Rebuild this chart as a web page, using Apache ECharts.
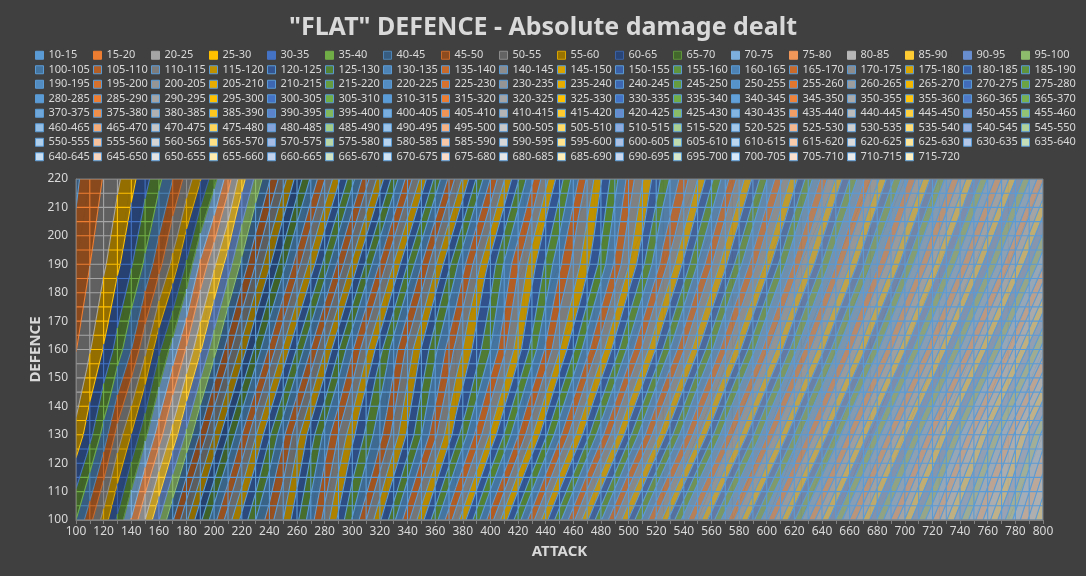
<!DOCTYPE html>
<html>
<head>
<meta charset="utf-8">
<title>"FLAT" DEFENCE - Absolute damage dealt</title>
<script src="https://cdn.jsdelivr.net/npm/echarts@6/dist/echarts.min.js"></script>
<style>
  html, body { margin: 0; padding: 0; background: #404040; }
  #chart { width: 1086px; height: 576px; }
</style>
</head>
<body>
<div id="chart"></div>
<script>
// attack columns / defence rows the damage table was read at
var ATTACK = [100, 110, 120, 130, 140, 150, 160, 170, 180, 190, 200, 210, 220, 230, 240, 250, 260, 270, 280, 290, 300,
  325, 350, 375, 400, 425, 450, 475, 500, 525, 550, 575, 600, 625, 650, 675, 700, 725, 750, 775, 800];
var DEFENCE = [100, 130, 160, 190, 220];

// damage dealt, one array per defence row
var DMG_D100 = [40.0, 48.3, 57.0, 66.0, 75.4, 85.0, 94.7, 104.5, 114.2, 123.9, 133.3, 142.5, 151.4, 159.8, 167.7, 175.0, 183.9, 192.9, 201.9, 211.1, 220.4,
  244.0, 268.1, 292.7, 317.7, 343.0, 368.6, 394.3, 420.3, 446.3, 472.3, 498.3, 524.1, 549.8, 575.3, 600.5, 625.4, 649.8, 673.8, 697.2, 720.0];
var DMG_D130 = [26.3, 33.4, 42.0, 52.0, 60.2, 68.8, 77.6, 86.8, 96.1, 105.7, 115.4, 125.1, 134.9, 144.6, 154.3, 163.9, 173.3, 182.6, 191.5, 200.2, 208.5,
  227.5, 249.8, 272.6, 295.9, 319.6, 343.7, 368.2, 393.0, 418.0, 443.3, 468.9, 494.6, 520.4, 546.3, 572.3, 598.4, 624.4, 650.3, 676.2, 702.0];
var DMG_D160 = [19.8, 24.6, 30.4, 37.1, 44.9, 53.8, 64.0, 72.2, 80.6, 89.4, 98.3, 107.5, 116.9, 126.4, 136.0, 145.7, 155.5, 165.2, 175.0, 184.7, 194.4,
  218.0, 240.4, 261.3, 280.0, 302.3, 324.9, 348.0, 371.4, 395.2, 419.3, 443.7, 468.4, 493.3, 518.4, 543.7, 569.2, 594.8, 620.6, 646.5, 672.4];
var DMG_D190 = [16.3, 19.9, 24.1, 28.9, 34.5, 41.0, 48.2, 56.5, 65.7, 76.0, 84.1, 92.5, 101.2, 110.0, 119.1, 128.3, 137.6, 147.1, 156.7, 166.3, 176.1,
  200.5, 224.8, 248.7, 271.7, 293.6, 314.0, 332.5, 354.7, 377.3, 400.2, 423.5, 447.0, 470.8, 494.9, 519.2, 543.8, 568.6, 593.6, 618.7, 644.1];
var DMG_D220 = [14.3, 17.1, 20.3, 24.1, 28.3, 33.2, 38.7, 45.0, 51.9, 59.6, 68.2, 77.6, 88.0, 96.1, 104.5, 113.0, 121.8, 130.7, 139.8, 149.0, 158.4,
  182.2, 206.4, 230.9, 255.2, 279.2, 302.6, 325.1, 346.6, 366.6, 385.0, 407.2, 429.7, 452.5, 475.6, 499.0, 522.6, 546.4, 570.5, 594.8, 619.3];
var TABLE = [DMG_D100, DMG_D130, DMG_D160, DMG_D190, DMG_D220];

// contour bands 10-15 ... 715-720
var BAND_MIN = 10, BAND_STEP = 5, BAND_COUNT = 142;
var bandLabels = [];
for (var b = 0; b < BAND_COUNT; b++) {
  bandLabels.push((BAND_MIN + b * BAND_STEP) + '-' + (BAND_MIN + (b + 1) * BAND_STEP));
}

// office palette, shaded per group of six
var ACCENTS = ['#5B9BD5', '#ED7D31', '#A5A5A5', '#FFC000', '#4472C4', '#70AD47'];
var TONES = [0, -0.4, 0.2, -0.25, -0.15, -0.15, -0.1, -0.1, -0.05, 0, 0, 0.05,
  0.12, 0.18, 0.25, 0.35, 0.4, 0.45, 0.52, 0.56, 0.6, 0.68, 0.72, 0.76];
var WIRE_BLUE = '#5B9BD5';
var WIRE_STEP_A = 10, WIRE_STEP_D = 5;

function hexRgb(h) {
  return [parseInt(h.substr(1, 2), 16), parseInt(h.substr(3, 2), 16), parseInt(h.substr(5, 2), 16)];
}
function rgbHex(c) {
  return '#' + c.map(function (x) {
    var s = Math.round(Math.max(0, Math.min(255, x))).toString(16);
    return s.length < 2 ? '0' + s : s;
  }).join('');
}
function tone(h, t) {
  return rgbHex(hexRgb(h).map(function (x) { return t < 0 ? x * (1 + t) : x + (255 - x) * t; }));
}
function shade(h, k) {
  return rgbHex(hexRgb(h).map(function (x) { return x * k; }));
}

var legendColor = [], fillColor = [], lineColor = [];
for (var b2 = 0; b2 < BAND_COUNT; b2++) {
  var g = Math.floor(b2 / 6);
  var c = tone(ACCENTS[b2 % 6], TONES[g]);
  legendColor.push(c);
  fillColor.push(shade(c, g === 0 ? 0.58 : (g === 1 ? 1 : 0.75)));
  lineColor.push(b2 < 18 ? (g === 1 ? tone(ACCENTS[b2 % 6], -0.15) : c) : WIRE_BLUE);
}

function bandOf(v) {
  return Math.max(0, Math.min(BAND_COUNT - 1, Math.floor((v - BAND_MIN) / BAND_STEP)));
}

// keep the part of a polygon above / below a level
function clip(poly, level, keepAbove) {
  var out = [];
  for (var k = 0; k < poly.length; k++) {
    var p = poly[k], q = poly[(k + 1) % poly.length];
    var pin = keepAbove ? p.v >= level : p.v <= level;
    var qin = keepAbove ? q.v >= level : q.v <= level;
    if (pin) out.push(p);
    if (pin !== qin) {
      var t = (level - p.v) / (q.v - p.v);
      out.push({ x: p.x + t * (q.x - p.x), y: p.y + t * (q.y - p.y), v: level });
    }
  }
  return out;
}

// cell (i,j) split along its diagonal into two triangles
function cellSampler(api, i, j) {
  var a0 = ATTACK[i], a1 = ATTACK[i + 1], d0 = DEFENCE[j], d1 = DEFENCE[j + 1];
  var v00 = TABLE[j][i], v10 = TABLE[j][i + 1], v01 = TABLE[j + 1][i], v11 = TABLE[j + 1][i + 1];
  var at = function (t, s) {
    var v = t >= s ? v00 + t * (v10 - v00) + s * (v11 - v10) : v00 + s * (v01 - v00) + t * (v11 - v01);
    var xy = api.coord([a0 + t * (a1 - a0), d0 + s * (d1 - d0)]);
    return { x: xy[0], y: xy[1], v: v };
  };
  at.a0 = a0; at.a1 = a1; at.d0 = d0; at.d1 = d1;
  return at;
}

function renderFill(params, api) {
  var at = cellSampler(api, api.value(2), api.value(3));
  var p00 = at(0, 0), p10 = at(1, 0), p11 = at(1, 1), p01 = at(0, 1);
  var children = [];
  [[p00, p10, p11], [p00, p11, p01]].forEach(function (tri) {
    var vs = tri.map(function (p) { return p.v; });
    var b0 = bandOf(Math.min.apply(null, vs)), b1 = bandOf(Math.max.apply(null, vs));
    for (var b = b0; b <= b1; b++) {
      var lo = BAND_MIN + b * BAND_STEP;
      var poly = clip(clip(tri, lo, true), lo + BAND_STEP, false);
      if (poly.length < 3) continue;
      children.push({
        type: 'polygon',
        shape: { points: poly.map(function (p) { return [p.x, p.y]; }) },
        style: { fill: fillColor[b], stroke: fillColor[b], lineWidth: 0.6 }
      });
    }
  });
  return { type: 'group', children: children };
}

function renderWire(params, api) {
  var i = api.value(2), j = api.value(3);
  var at = cellSampler(api, i, j);
  var buckets = {};
  var put = function (x1, y1, x2, y2, col) {
    (buckets[col] = buckets[col] || []).push('M' + x1.toFixed(1) + ' ' + y1.toFixed(1) + 'L' + x2.toFixed(1) + ' ' + y2.toFixed(1));
  };
  // a straight wire piece, cut where it changes band
  var seg = function (p, q) {
    var ts = [0, 1];
    var lo = Math.min(p.v, q.v), hi = Math.max(p.v, q.v);
    for (var L = BAND_MIN + BAND_STEP * Math.ceil((lo - BAND_MIN) / BAND_STEP); L < hi; L += BAND_STEP) {
      if (L > lo) ts.push((L - p.v) / (q.v - p.v));
    }
    ts.sort(function (a, b) { return a - b; });
    for (var k = 0; k < ts.length - 1; k++) {
      var t0 = ts[k], t1 = ts[k + 1];
      if (t1 - t0 < 1e-6) continue;
      var b = bandOf(p.v + (t0 + t1) / 2 * (q.v - p.v));
      put(p.x + t0 * (q.x - p.x), p.y + t0 * (q.y - p.y), p.x + t1 * (q.x - p.x), p.y + t1 * (q.y - p.y), lineColor[b]);
    }
  };
  var lastCol = i === ATTACK.length - 2, lastRow = j === DEFENCE.length - 2;
  for (var a = ATTACK[0]; a <= ATTACK[ATTACK.length - 1]; a += WIRE_STEP_A) {
    if (a < at.a0 || a > at.a1 || (a === at.a1 && !lastCol)) continue;
    var t = (a - at.a0) / (at.a1 - at.a0);
    seg(at(t, 0), at(t, t));
    seg(at(t, t), at(t, 1));
  }
  for (var d = DEFENCE[0]; d <= DEFENCE[DEFENCE.length - 1]; d += WIRE_STEP_D) {
    if (d < at.d0 || d > at.d1 || (d === at.d1 && !lastRow)) continue;
    var s = (d - at.d0) / (at.d1 - at.d0);
    seg(at(0, s), at(s, s));
    seg(at(s, s), at(1, s));
  }
  // band boundaries
  [[at(0, 0), at(1, 0), at(1, 1)], [at(0, 0), at(1, 1), at(0, 1)]].forEach(function (tri) {
    var vs = tri.map(function (p) { return p.v; });
    var vmin = Math.min.apply(null, vs), vmax = Math.max.apply(null, vs);
    for (var L = BAND_MIN + BAND_STEP * Math.floor((vmin - BAND_MIN) / BAND_STEP + 1); L <= vmax; L += BAND_STEP) {
      var pts = [];
      for (var k = 0; k < 3; k++) {
        var p = tri[k], q = tri[(k + 1) % 3];
        if ((p.v >= L) !== (q.v >= L)) {
          var u = (L - p.v) / (q.v - p.v);
          pts.push([p.x + u * (q.x - p.x), p.y + u * (q.y - p.y)]);
        }
      }
      if (pts.length === 2) {
        var below = Math.max(0, Math.round((L - BAND_MIN) / BAND_STEP) - 1);
        put(pts[0][0], pts[0][1], pts[1][0], pts[1][1], lineColor[below]);
      }
    }
  });
  var children = Object.keys(buckets).map(function (col) {
    return {
      type: 'path',
      shape: { pathData: buckets[col].join('') },
      style: { stroke: col, fill: 'none', lineWidth: 1.1 }
    };
  });
  return { type: 'group', children: children };
}

var cells = [];
for (var jj = 0; jj < DEFENCE.length - 1; jj++) {
  for (var ii = 0; ii < ATTACK.length - 1; ii++) {
    cells.push([ATTACK[ii], DEFENCE[jj], ii, jj]);
  }
}

var legendSeries = bandLabels.map(function (name, b) {
  return { type: 'line', name: name, data: [], color: legendColor[b] };
});

var textColor = '#D9D9D9';
var font = 'Noto Sans';

var chart = echarts.init(document.getElementById('chart'));
chart.setOption({
  backgroundColor: '#404040',
  animation: false,
  title: {
    text: '"FLAT" DEFENCE - Absolute damage dealt',
    left: 'center',
    top: 10,
    textStyle: { color: textColor, fontSize: 25, fontWeight: 'bold', fontFamily: font }
  },
  legend: {
    data: bandLabels.map(function (name, b) {
      return { name: name, icon: 'rect', itemStyle: { color: legendColor[b], borderColor: lineColor[b], borderWidth: 1 } };
    }),
    left: 30,
    top: 43,
    width: 1070,
    itemGap: 0,
    itemWidth: 8,
    itemHeight: 8,
    selectedMode: false,
    textStyle: { color: textColor, fontSize: 11, fontFamily: font, width: 44.5, lineHeight: 14.5 }
  },
  grid: {
    left: 76, right: 43, top: 179, bottom: 56,
    show: true, borderColor: '#7F7F7F', borderWidth: 1, backgroundColor: 'transparent', z: 6,
    outerBoundsMode: 'none'
  },
  xAxis: {
    type: 'value',
    min: 100, max: 800, interval: 10,
    name: 'ATTACK', nameLocation: 'middle', nameGap: 24, nameMoveOverlap: false,
    nameTextStyle: { color: textColor, fontSize: 15, fontWeight: 'bold', fontFamily: font },
    axisLine: { lineStyle: { color: '#7F7F7F' } },
    axisTick: { show: true, length: 4, lineStyle: { color: '#7F7F7F' } },
    axisLabel: {
      color: textColor, fontSize: 12, fontFamily: font, margin: 6,
      formatter: function (v) { return (v - 100) % 20 === 0 ? String(v) : ''; }
    },
    splitLine: { show: false }
  },
  yAxis: {
    type: 'value',
    min: 100, max: 220, interval: 10,
    name: 'DEFENCE', nameLocation: 'middle', nameGap: 33, nameRotate: 90, nameMoveOverlap: false,
    nameTextStyle: { color: textColor, fontSize: 15, fontWeight: 'bold', fontFamily: font },
    axisLine: { show: true, lineStyle: { color: '#7F7F7F' } },
    axisTick: { show: false },
    axisLabel: { color: textColor, fontSize: 12, fontFamily: font, margin: 8 },
    splitLine: { show: false }
  },
  series: [
    { type: 'custom', renderItem: renderFill, data: cells, encode: { x: 0, y: 1 }, clip: true, z: 2, silent: true },
    { type: 'custom', renderItem: renderWire, data: cells, encode: { x: 0, y: 1 }, clip: true, z: 3, silent: true }
  ].concat(legendSeries)
});
</script>
</body>
</html>
